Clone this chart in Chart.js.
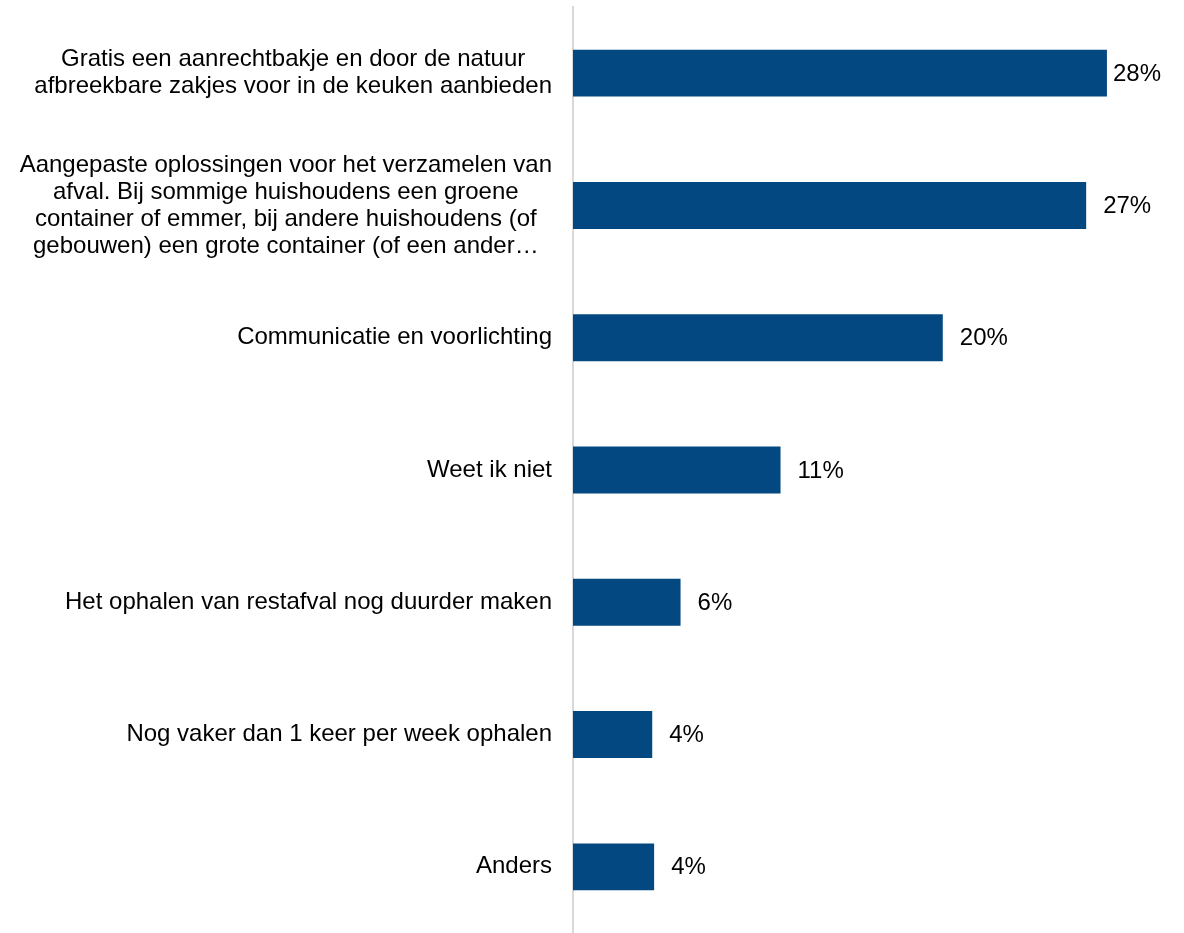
<!DOCTYPE html>
<html>
<head>
<meta charset="utf-8">
<script src="https://cdn.jsdelivr.net/npm/chart.js@4/dist/chart.umd.min.js"></script>
<style>
  html, body { margin: 0; padding: 0; background: #fff; }
  #wrap { width: 1184px; height: 933px; position: relative; }
</style>
</head>
<body>
<div id="wrap"><canvas id="chart"></canvas></div>
<script>
const categories = [
  ['Gratis een aanrechtbakje en door de natuur', 'afbreekbare zakjes voor in de keuken aanbieden'],
  ['Aangepaste oplossingen voor het verzamelen van', 'afval. Bij sommige huishoudens een groene', 'container of emmer, bij andere huishoudens (of', 'gebouwen) een grote container (of een ander\u2026'],
  ['Communicatie en voorlichting'],
  ['Weet ik niet'],
  ['Het ophalen van restafval nog duurder maken'],
  ['Nog vaker dan 1 keer per week ophalen'],
  ['Anders']
];
const percentages = [28.3, 27.2, 19.6, 11.0, 5.7, 4.2, 4.3];

const barColor = '#034880';
const labelFont = '24px "Liberation Sans", Arial, sans-serif';

// category labels: each block right-aligned to the axis, lines centred within it
const categoryLabels = {
  id: 'categoryLabels',
  afterDraw(chart) {
    const ctx = chart.ctx;
    const yScale = chart.scales.y;
    const right = chart.chartArea.left - 21;
    const lineHeight = 27;
    ctx.save();
    ctx.font = labelFont;
    ctx.fillStyle = '#000';
    ctx.textAlign = 'center';
    ctx.textBaseline = 'middle';
    categories.forEach((lines, i) => {
      const w = Math.max(...lines.map(l => ctx.measureText(l).width));
      const cx = right - w / 2;
      const cy = yScale.getPixelForValue(i);
      const top = cy - (lines.length - 1) * lineHeight / 2;
      lines.forEach((l, j) => ctx.fillText(l, cx, top + j * lineHeight));
    });
    ctx.restore();
  }
};

// value labels at the end of each bar
const valueLabels = {
  id: 'valueLabels',
  afterDatasetsDraw(chart) {
    const ctx = chart.ctx;
    const meta = chart.getDatasetMeta(0);
    ctx.save();
    ctx.font = labelFont;
    ctx.fillStyle = '#000';
    ctx.textAlign = 'left';
    ctx.textBaseline = 'middle';
    meta.data.forEach((bar, i) => {
      const txt = Math.round(percentages[i]) + '%';
      const w = ctx.measureText(txt).width;
      let x = bar.x + 17;
      if (x + w > chart.width - 23) x = chart.width - 23 - w;
      ctx.fillText(txt, x, bar.y + 1);
    });
    ctx.restore();
  }
};

new Chart(document.getElementById('chart'), {
  type: 'bar',
  data: {
    labels: categories.map(c => c.join(' ')),
    datasets: [{
      data: percentages,
      backgroundColor: barColor,
      borderWidth: 0,
      categoryPercentage: 1,
      barPercentage: 0.355
    }]
  },
  options: {
    indexAxis: 'y',
    responsive: true,
    maintainAspectRatio: false,
    animation: false,
    layout: { padding: { top: 7, right: 45, bottom: 0, left: 0 } },
    plugins: {
      legend: { display: false },
      tooltip: { enabled: false }
    },
    scales: {
      x: {
        display: false,
        min: 0,
        max: 30
      },
      y: {
        grid: { display: false, drawTicks: false },
        border: { display: true, color: '#d9d9d9', width: 2 },
        ticks: { display: false },
        afterFit(scale) { scale.width = 573; }
      }
    }
  },
  plugins: [categoryLabels, valueLabels]
});
</script>
</body>
</html>
